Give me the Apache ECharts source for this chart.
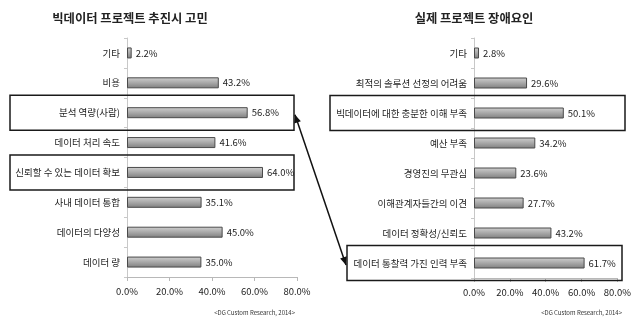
<!DOCTYPE html>
<html><head><meta charset="utf-8">
<script src="https://cdn.jsdelivr.net/npm/echarts@6/dist/echarts.min.js"></script>
<style>html,body{margin:0;padding:0;background:#fff}#c{width:634px;height:327px}</style>
</head><body><div id="c"></div>
<script>
const leftTitle = '빅데이터 프로젝트 추진시 고민';
const rightTitle = '실제 프로젝트 장애요인';
const leftCats = ['기타','비용','분석 역량(사람)','데이터 처리 속도','신뢰할 수 있는 데이터 확보','사내 데이터 통합','데이터의 다양성','데이터 량'];
const leftVals = [2.2, 43.2, 56.8, 41.6, 64.0, 35.1, 45.0, 35.0];
const rightCats = ['기타','최적의 솔루션 선정의 어려움','빅데이터에 대한 충분한 이해 부족','예산 부족','경영진의 무관심','이해관계자들간의 이견','데이터 정확성/신뢰도','데이터 통찰력 가진 인력 부족'];
const rightVals = [2.8, 29.6, 50.1, 34.2, 23.6, 27.7, 43.2, 61.7];
const xTicks = [0, 20, 40, 60, 80];
const sourceText = '<DG Custom Research, 2014>';
const leftHighlight = [2, 4];
const rightHighlight = [2, 7];

const FONT = '"Noto Sans CJK KR", "Noto Sans", sans-serif';
const chart = echarts.init(document.getElementById('c'), null, {renderer:'canvas'});

function xAxis(idx){
  return {type:'value', gridIndex:idx, min:xTicks[0], max:xTicks[xTicks.length-1], interval:xTicks[1]-xTicks[0],
    axisLine:{show:true, lineStyle:{color:'#b8b8b8', width:1}},
    axisTick:{show:true, length:4, lineStyle:{color:'#b8b8b8'}},
    splitLine:{show:false},
    axisLabel:{formatter:v=>v.toFixed(1)+'%', fontSize:9.5, color:'#222', fontFamily:FONT, margin:10}};
}
function yAxis(idx, cats){
  return {type:'category', gridIndex:idx, data:cats, inverse:true,
    axisLine:{show:true, lineStyle:{color:'#c8c8c8'}},
    axisTick:{show:true, length:3, lineStyle:{color:'#c8c8c8'}},
    axisLabel:{fontSize:9.5, color:'#222', fontFamily:FONT, margin:7}};
}
const barStyle = {
  color: new echarts.graphic.LinearGradient(0,0,0,1,[
    {offset:0, color:'#d0d0d0'},{offset:0.5, color:'#a8a8a8'},{offset:1, color:'#7e7e7e'}]),
  borderColor:'#4a4a4a', borderWidth:1
};
function series(idx, vals){
  return {type:'bar', xAxisIndex:idx, yAxisIndex:idx, data:vals, barWidth:11,
    itemStyle:barStyle,
    label:{show:true, position:'right', distance:4, fontSize:9.5, color:'#222', fontFamily:FONT,
      formatter:p=>p.value.toFixed(1)+'%'}};
}

chart.setOption({
  animation:false,
  grid:[{left:127, top:38, width:170, height:239},
        {left:474, top:38, width:149, height:240}],
  xAxis:[xAxis(0), xAxis(1)],
  yAxis:[yAxis(0, leftCats), yAxis(1, rightCats)],
  series:[series(0, leftVals), series(1, rightVals)]
});

function catY(axisIdx, i){ return chart.convertToPixel({yAxisIndex:axisIdx}, i); }
const half = 17.5;
const boxes = [
  {x1:10, x2:294, y:catY(0, leftHighlight[0])},
  {x1:10, x2:294, y:catY(0, leftHighlight[1])},
  {x1:330, x2:625, y:catY(1, rightHighlight[0])},
  {x1:347, x2:622, y:catY(1, rightHighlight[1])}
];
const graphics = boxes.map(b=>({type:'rect', shape:{x:b.x1, y:b.y-half, width:b.x2-b.x1, height:half*2},
  style:{fill:'none', stroke:'#1a1a1a', lineWidth:1.5}, z:10}));

// double-headed arrow between the first left box and the last right box
const ax1 = 295, ay1 = boxes[0].y + 2, ax2 = 346, ay2 = boxes[3].y + 2;
const ang = Math.atan2(ay2-ay1, ax2-ax1);
function head(x, y, a){
  const L=8, W=3.5;
  const bx = x - L*Math.cos(a), by = y - L*Math.sin(a);
  return {type:'polygon', shape:{points:[[x,y],[bx + W*Math.sin(a), by - W*Math.cos(a)],[bx - W*Math.sin(a), by + W*Math.cos(a)]]},
    style:{fill:'#111'}, z:11};
}
graphics.push({type:'line', shape:{x1:ax1, y1:ay1, x2:ax2, y2:ay2}, style:{stroke:'#111', lineWidth:1.5}, z:11});
graphics.push(head(ax2, ay2, ang));
graphics.push(head(ax1, ay1, ang+Math.PI));

graphics.push({type:'text', x:130, y:18, style:{text:leftTitle, font:'bold 12.3px '+FONT, fill:'#222', align:'center', verticalAlign:'middle'}});
graphics.push({type:'text', x:474, y:18, style:{text:rightTitle, font:'bold 12.3px '+FONT, fill:'#222', align:'center', verticalAlign:'middle'}});
graphics.push({type:'text', x:295, y:313, style:{text:sourceText, font:'6px '+FONT, fill:'#333', align:'right', verticalAlign:'middle'}});
graphics.push({type:'text', x:622, y:313, style:{text:sourceText, font:'6px '+FONT, fill:'#333', align:'right', verticalAlign:'middle'}});

chart.setOption({graphic:graphics});
</script></body></html>
